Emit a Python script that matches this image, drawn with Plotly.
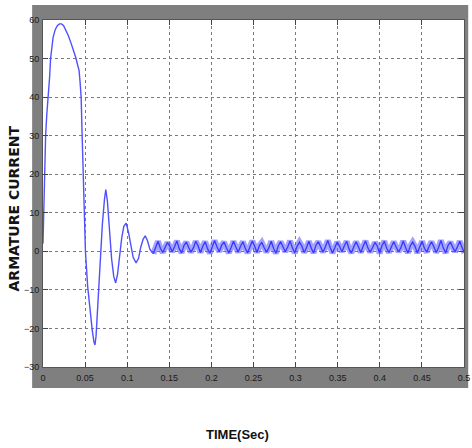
import plotly.graph_objects as go

# ---- data ----
transient_t = [0, 0.001, 0.0023, 0.0031, 0.0045, 0.0062, 0.0078, 0.009, 0.0105, 0.012,
               0.0145, 0.017, 0.0195, 0.022, 0.0245, 0.027, 0.030, 0.033, 0.036, 0.039,
               0.0415, 0.0428, 0.0440, 0.0453, 0.0465, 0.0480, 0.0504, 0.053, 0.056, 0.0585,
               0.0605, 0.0617, 0.0630, 0.0650, 0.068, 0.0705, 0.0730, 0.0746, 0.0765, 0.0790,
               0.0815, 0.0840, 0.0863, 0.0885, 0.091, 0.0935, 0.0960, 0.0987, 0.1015, 0.104,
               0.1070, 0.1105, 0.1135, 0.116, 0.1190, 0.1214, 0.1240, 0.1270, 0.131]
transient_i = [2, 14, 26, 30, 35.5, 40, 45, 50, 53, 55.5,
               57.5, 58.5, 59, 59, 58.5, 57.5, 56, 54.2, 52.3, 50.2,
               48, 47, 44, 40, 30, 18, 0, -9, -16, -20.5,
               -23.5, -24.3, -22, -14, -1, 7, 13.5, 16, 13, 5,
               -2, -6.5, -8.2, -6, -1, 3.5, 6.5, 7.3, 5, 1.5,
               -1.5, -3, -1.8, 1, 3.2, 4.0, 2.8, 0.5, -0.6]

steady_t = [0.1310,
            0.1338, 0.1366, 0.1394, 0.1422, 0.1450, 0.1478, 0.1506, 0.1534, 0.1562, 0.1590,
            0.1618, 0.1646, 0.1674, 0.1702, 0.1730, 0.1758, 0.1786, 0.1814, 0.1842, 0.1870,
            0.1898, 0.1926, 0.1954, 0.1982, 0.2010, 0.2038, 0.2066, 0.2094, 0.2122, 0.2150,
            0.2178, 0.2206, 0.2234, 0.2262, 0.2290, 0.2318, 0.2346, 0.2374, 0.2402, 0.2430,
            0.2458, 0.2486, 0.2514, 0.2542, 0.2570, 0.2598, 0.2626, 0.2654, 0.2682, 0.2710,
            0.2738, 0.2766, 0.2794, 0.2822, 0.2850, 0.2878, 0.2906, 0.2934, 0.2962, 0.2990,
            0.3018, 0.3046, 0.3074, 0.3102, 0.3130, 0.3158, 0.3186, 0.3214, 0.3242, 0.3270,
            0.3298, 0.3326, 0.3354, 0.3382, 0.3410, 0.3438, 0.3466, 0.3494, 0.3522, 0.3550,
            0.3578, 0.3606, 0.3634, 0.3662, 0.3690, 0.3718, 0.3746, 0.3774, 0.3802, 0.3830,
            0.3858, 0.3886, 0.3914, 0.3942, 0.3970, 0.3998, 0.4026, 0.4054, 0.4082, 0.4110,
            0.4138, 0.4166, 0.4194, 0.4222, 0.4250, 0.4278, 0.4306, 0.4334, 0.4362, 0.4390,
            0.4418, 0.4446, 0.4474, 0.4502, 0.4530, 0.4558, 0.4586, 0.4614, 0.4642, 0.4670,
            0.4698, 0.4726, 0.4754, 0.4782, 0.4810, 0.4838, 0.4866, 0.4894, 0.4922, 0.4950,
            0.4978, 0.5006]
steady_i = [-0.6,
            1.3, 2.6, 0.8, -0.3, 1.0, 2.3, 1.3, -0.1, 1.2, 2.7, 0.7, -0.4,
            1.5, 2.4, 1.0, -0.2, 0.9, 2.6, 1.4, -0.3, 1.3, 2.5, 0.7, -0.5,
            1.1, 2.8, 1.2, -0.1, 1.6, 2.4, 0.9, -0.4, 1.0, 2.6, 1.1, -0.2,
            1.3, 2.5, 0.8, -0.4, 1.2, 2.7, 1.3, -0.3, 1.5, 2.3, 1.0, -0.2,
            0.9, 2.6, 0.8, -0.5, 1.4, 2.5, 1.2, -0.1, 1.1, 2.7, 0.9, -0.4,
            1.3, 2.4, 1.4, -0.3, 1.0, 2.6, 0.8, -0.4, 1.6, 2.5, 1.1, -0.2,
            1.2, 2.8, 1.0, -0.4, 0.9, 2.4, 1.3, -0.1, 1.4, 2.6, 0.7, -0.4,
            1.1, 2.5, 1.2, -0.3, 1.3, 2.7, 0.9, -0.2, 1.0, 2.3, 1.4, -0.5,
            1.5, 2.6, 0.8, -0.3, 1.2, 2.5, 1.1, -0.1, 0.9, 2.7, 1.0, -0.4,
            1.4, 2.4, 1.3, -0.4, 1.1, 2.6, 0.8, -0.2, 1.3, 2.5, 1.2, -0.3,
            1.0, 2.8, 0.9, -0.4, 1.5, 2.4, 1.1, -0.1, 1.2, 2.6, 0.9, -0.4]

x_ticks = [0, 0.05, 0.1, 0.15, 0.2, 0.25, 0.3, 0.35, 0.4, 0.45, 0.5]
x_ticklabels = ["0", "0.05", "0.1", "0.15", "0.2", "0.25", "0.3", "0.35", "0.4", "0.45", "0.5"]
y_ticks = [-30, -20, -10, 0, 10, 20, 30, 40, 50, 60]

blue = "rgb(55,55,255)"

fig = go.Figure()
fig.add_trace(go.Scatter(x=transient_t, y=transient_i, mode="lines",
                         line=dict(color="rgb(80,80,255)", width=1.4), showlegend=False))
fig.add_trace(go.Scatter(x=steady_t, y=steady_i, mode="lines",
                         line=dict(color="rgba(90,90,255,0.55)", width=6), showlegend=False))
fig.add_trace(go.Scatter(x=steady_t, y=steady_i, mode="lines",
                         line=dict(color=blue, width=1.3), showlegend=False))

tick_font = dict(family="Liberation Sans Narrow, Arial Narrow, sans-serif", size=9, color="#1a1a1a")

fig.update_layout(
    width=472, height=448,
    margin=dict(l=43, r=2, t=20, b=81),
    paper_bgcolor="white", plot_bgcolor="white",
    showlegend=False,
    xaxis=dict(range=[0, 0.5], tickvals=x_ticks, ticktext=x_ticklabels,
               showgrid=True, gridcolor="#7a7a7a", griddash="dot", gridwidth=1,
               zeroline=False, ticks="inside", ticklen=5, tickcolor="#444",
               showline=True, linecolor="#555", linewidth=1, mirror="ticks",
               tickfont=tick_font, ticklabelstandoff=2, ticklabeloverflow="allow"),
    yaxis=dict(range=[-30, 60], tickvals=y_ticks,
               showgrid=True, gridcolor="#7a7a7a", griddash="dot", gridwidth=1,
               zeroline=False, ticks="inside", ticklen=5, tickcolor="#444",
               showline=True, linecolor="#555", linewidth=1, mirror="ticks",
               tickfont=tick_font, ticklabelstandoff=1, ticklabeloverflow="allow"),
    shapes=[
        dict(type="rect", xref="paper", yref="paper", x0=-0.0258, x1=1.01, y0=-0.0605, y1=1.0432,
             fillcolor="#7f7f7f", line=dict(width=0), layer="below"),
        dict(type="rect", xref="paper", yref="paper", x0=0, x1=1, y0=0, y1=1,
             fillcolor="white", line=dict(width=0), layer="below"),
    ],
    annotations=[
        dict(text="<b>ARMATURE CURRENT</b>", textangle=-90, xref="paper", yref="paper",
             x=-0.0679, y=0.458, showarrow=False, xanchor="center", yanchor="middle",
             font=dict(family="DejaVu Sans, sans-serif", size=14, color="#141414")),
        dict(text="<b>TIME(Sec)</b>", xref="paper", yref="paper",
             x=(240 - 43) / 427, y=(367 - 434) / 347, showarrow=False,
             xanchor="center", yanchor="middle",
             font=dict(family="Liberation Sans Narrow, Arial Narrow, sans-serif", size=13, color="#111")),
    ],
)

fig.write_html("out.html")
